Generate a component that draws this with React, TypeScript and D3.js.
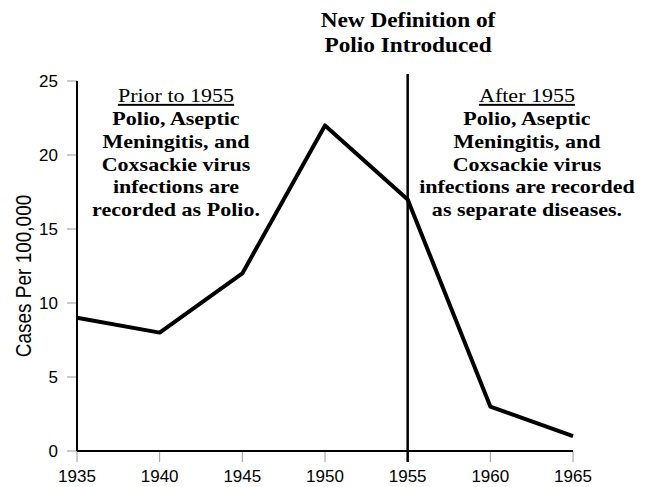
import * as d3 from "d3";

// data
const years = [1935, 1940, 1945, 1950, 1955, 1960, 1965];
const cases = [9, 8, 12, 22, 17, 3, 1];
const yTicks = [0, 5, 10, 15, 20, 25];
const xTicks = [1935, 1940, 1945, 1950, 1955, 1960, 1965];
const markerYear = 1955;

const titleLines = ["New Definition of", "Polio Introduced"];
const leftHead = "Prior to 1955";
const leftLines = [
  "Polio, Aseptic",
  "Meningitis, and",
  "Coxsackie virus",
  "infections are",
  "recorded as Polio.",
];
const rightHead = "After 1955";
const rightLines = [
  "Polio, Aseptic",
  "Meningitis, and",
  "Coxsackie virus",
  "infections are recorded",
  "as separate diseases.",
];

const W = 645;
const H = 487;
const serif = "'Liberation Serif', 'Times New Roman', serif";
const sans = "'Liberation Sans', Arial, sans-serif";

// the scanned original is a bit wider than tall, so serif text gets stretched
const BODY_SIZE = 19.5;
const BODY_SX = 1.13;
const TITLE_SIZE = 21;
const TITLE_SX = 1.11;

export default function App() {
  const x = d3.scaleLinear().domain([1935, 1965]).range([77, 573]);
  const y = d3.scaleLinear().domain([0, 25]).range([451, 81]);

  const line = d3
    .line<number>()
    .x((_, i) => x(years[i]))
    .y((d) => y(d));

  const textBlock = (cx: number, head: string, lines: string[]) => (
    <g>
      <text
        transform={`translate(${cx},102) scale(${BODY_SX},1)`}
        textAnchor="middle"
        fontFamily={serif}
        fontSize={BODY_SIZE}
        textDecoration="underline"
      >
        {head}
      </text>
      {lines.map((l, i) => (
        <text
          key={i}
          transform={`translate(${cx},${125 + i * 22.8}) scale(${BODY_SX},1)`}
          textAnchor="middle"
          fontFamily={serif}
          fontWeight="bold"
          fontSize={BODY_SIZE}
        >
          {l}
        </text>
      ))}
    </g>
  );

  return (
    <svg
      width={W}
      height={H}
      style={{ position: "absolute", left: 0, top: 0, background: "#fff" }}
    >
      {/* title */}
      {titleLines.map((t, i) => (
        <text
          key={i}
          transform={`translate(408,${27 + i * 25}) scale(${TITLE_SX},1)`}
          textAnchor="middle"
          fontFamily={serif}
          fontWeight="bold"
          fontSize={TITLE_SIZE}
        >
          {t}
        </text>
      ))}

      {/* y ticks */}
      {yTicks.map((t) => (
        <g key={t}>
          <line x1={67} x2={77} y1={y(t)} y2={y(t)} stroke="#999" strokeWidth={1} />
          <text
            x={58}
            y={y(t) + 6}
            textAnchor="end"
            fontFamily={sans}
            fontSize={17}
          >
            {t}
          </text>
        </g>
      ))}

      {/* x ticks */}
      {xTicks.map((t) => (
        <g key={t}>
          <line x1={x(t)} x2={x(t)} y1={451} y2={462} stroke="#999" strokeWidth={1} />
          <text
            x={x(t)}
            y={482}
            textAnchor="middle"
            fontFamily={sans}
            fontSize={17}
          >
            {t}
          </text>
        </g>
      ))}

      {/* axes */}
      <line x1={77} x2={77} y1={y(25)} y2={y(0)} stroke="#000" strokeWidth={2} />
      <line x1={77} x2={573} y1={y(0)} y2={y(0)} stroke="#000" strokeWidth={2} />

      <text
        transform="translate(31,276) rotate(-90) scale(1,1.2)"
        textAnchor="middle"
        fontFamily={sans}
        fontSize={19}
      >
        Cases Per 100,000
      </text>

      {/* marker line */}
      <line
        x1={x(markerYear)}
        x2={x(markerYear)}
        y1={74}
        y2={462}
        stroke="#000"
        strokeWidth={2.5}
      />

      {/* data line */}
      <path
        d={line(cases) ?? ""}
        fill="none"
        stroke="#000"
        strokeWidth={4}
        strokeLinejoin="round"
      />

      {textBlock(176, leftHead, leftLines)}
      {textBlock(527, rightHead, rightLines)}
    </svg>
  );
}
